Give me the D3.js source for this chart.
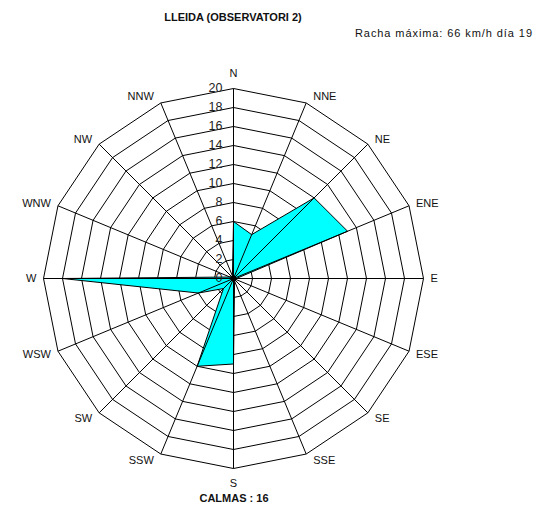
<!DOCTYPE html>
<html>
<head>
<meta charset="utf-8">
<script src="https://cdn.jsdelivr.net/npm/d3@7"></script>
<style>
  body { margin: 0; background: #fff; }
  svg text { font-family: "Liberation Sans", Arial, sans-serif; fill: #111; }
</style>
</head>
<body>
<div id="rose"></div>
<script>
// wind directions, clockwise from north
var directions = ["N", "NNE", "NE", "ENE", "E", "ESE", "SE", "SSE",
                  "S", "SSW", "SW", "WSW", "W", "WNW", "NW", "NNW"];
// frequency per direction (%)
var frequency = [6, 5, 12, 13, 0.3, 0.3, 0.3, 0.3,
                 9, 10, 1.5, 4, 18, 0.4, 0.3, 0.3];
var ringValues = [0, 2, 4, 6, 8, 10, 12, 14, 16, 18, 20];
var titleText = "LLEIDA (OBSERVATORI 2)";
var gustText = "Racha máxima: 66 km/h día 19";
var calmText = "CALMAS : 16";

var width = 540, height = 506;
var cx = 233.5, cy = 278.5;

var svg = d3.select("#rose").append("svg")
    .attr("width", width)
    .attr("height", height);

var r = d3.scaleLinear().domain([0, 20]).range([0, 190]);
var angle = d3.scaleLinear().domain([0, directions.length]).range([0, 2 * Math.PI]);

function pt(i, v) {
    var a = angle(i);
    return [cx + r(v) * Math.sin(a), cy - r(v) * Math.cos(a)];
}

var line = d3.line().curve(d3.curveLinearClosed);

// rings
svg.append("g").selectAll("path")
    .data(ringValues.filter(function(d) { return d > 0; }))
    .enter()
    .append("path")
    .attr("d", function(v) {
        return line(directions.map(function(d, i) { return pt(i, v); }));
    })
    .style("fill", "none")
    .style("stroke", "#000")
    .style("stroke-width", 1);

// data polygon
svg.append("path")
    .datum(frequency)
    .attr("d", function(vals) {
        return line(vals.map(function(v, i) { return pt(i, v); }));
    })
    .style("fill", "#00ffff")
    .style("stroke", "#000")
    .style("stroke-width", 1);

// spokes
svg.append("g").selectAll("line")
    .data(directions)
    .enter()
    .append("line")
    .attr("x1", cx)
    .attr("y1", cy)
    .attr("x2", function(d, i) { return pt(i, 20)[0]; })
    .attr("y2", function(d, i) { return pt(i, 20)[1]; })
    .style("stroke", "#000")
    .style("stroke-width", 1);

svg.append("circle")
    .attr("cx", cx)
    .attr("cy", cy)
    .attr("r", 3)
    .style("fill", "#000");

// ring labels
svg.append("g").selectAll("text")
    .data(ringValues)
    .enter()
    .append("text")
    .attr("x", cx - 11)
    .attr("y", function(d) { return cy - r(d) - 1; })
    .attr("dy", "0.35em")
    .attr("text-anchor", "end")
    .attr("font-size", "12.5px")
    .style("fill", "#222")
    .text(function(d) { return d; });

// direction labels, placed just outside each outer vertex
svg.append("g").selectAll("text")
    .data(directions)
    .enter()
    .append("text")
    .each(function(d, i) {
        var a = angle(i);
        var s = Math.sin(a), c = Math.cos(a);
        var p = pt(i, 20);
        var el = d3.select(this);
        if (Math.abs(s) < 0.1) {
            el.attr("x", p[0])
              .attr("y", p[1] - c * 15)
              .attr("text-anchor", "middle");
        } else {
            el.attr("x", p[0] + (s > 0 ? 7 : -7))
              .attr("y", p[1] - c * 7)
              .attr("text-anchor", s > 0 ? "start" : "end");
        }
    })
    .attr("dy", "0.35em")
    .attr("font-size", "11px")
    .text(function(d) { return d; });

svg.append("text")
    .attr("x", 233)
    .attr("y", 21)
    .attr("text-anchor", "middle")
    .attr("font-size", "11px")
    .attr("font-weight", "bold")
    .text(titleText);

svg.append("text")
    .attr("x", 355)
    .attr("y", 37)
    .attr("font-size", "11px")
    .attr("textLength", 177)
    .attr("lengthAdjust", "spacing")
    .text(gustText);

svg.append("text")
    .attr("x", 234)
    .attr("y", 502)
    .attr("text-anchor", "middle")
    .attr("font-size", "11px")
    .attr("font-weight", "bold")
    .text(calmText);
</script>
</body>
</html>
